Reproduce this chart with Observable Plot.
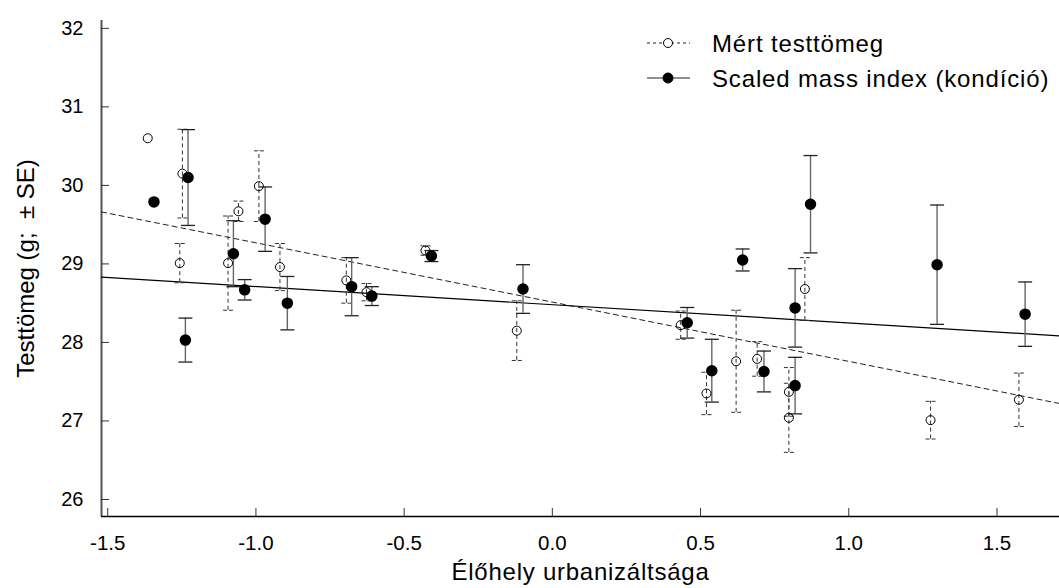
<!DOCTYPE html>
<html>
<head>
<meta charset="utf-8">
<script src="https://cdn.jsdelivr.net/npm/d3@7"></script>
<script src="https://cdn.jsdelivr.net/npm/@observablehq/plot@0.6"></script>
<style>
  body { margin: 0; background: #fff; font-family: "Liberation Sans", Arial, sans-serif; }
  #wrap { position: relative; width: 1059px; height: 588px; }
  #legend { position: absolute; left: 0; top: 0; }
</style>
</head>
<body>
<div id="wrap"></div>
<script>
// ---- data ----
const xTicks = [-1.5, -1.0, -0.5, 0.0, 0.5, 1.0, 1.5];
const yTicks = [26, 27, 28, 29, 30, 31, 32];
const xDomain = [-1.521, 1.711];
const yDomain = [25.783, 32.1];

const seriesNames = ["Mért testtömeg", "Scaled mass index (kondíció)"];
const xTitle = "Élőhely urbanizáltsága";
const yTitle = "Testtömeg (g;\u00a0 ± SE)";

// Mért testtömeg (open circles, dashed error bars)
const measuredX  = [-1.365, -1.257, -1.248, -1.094, -1.059, -0.990, -0.919, -0.695, -0.627, -0.428, -0.120, 0.433, 0.520, 0.620, 0.691, 0.798, 0.798, 0.852, 1.276, 1.574];
const measuredY  = [30.60, 29.01, 30.15, 29.01, 29.67, 29.99, 28.96, 28.79, 28.64, 29.17, 28.15, 28.22, 27.35, 27.76, 27.79, 27.37, 27.04, 28.68, 27.01, 27.27];
const measuredSE = [0, 0.25, 0.565, 0.60, 0.13, 0.45, 0.30, 0.29, 0.11, 0.06, 0.38, 0.18, 0.27, 0.65, 0.22, 0.31, 0.44, 0.40, 0.24, 0.34];

// Scaled mass index (filled circles, solid error bars)
const smiX  = [-1.344, -1.238, -1.229, -1.076, -1.038, -0.969, -0.894, -0.677, -0.609, -0.408, -0.099, 0.455, 0.538, 0.642, 0.714, 0.819, 0.819, 0.871, 1.298, 1.595];
const smiY  = [29.79, 28.03, 30.10, 29.13, 28.67, 29.57, 28.50, 28.71, 28.59, 29.10, 28.68, 28.25, 27.64, 29.05, 27.63, 28.44, 27.45, 29.76, 28.99, 28.36];
const smiSE = [0, 0.28, 0.61, 0.42, 0.13, 0.41, 0.34, 0.37, 0.12, 0.07, 0.31, 0.195, 0.40, 0.14, 0.26, 0.50, 0.36, 0.62, 0.76, 0.41];

// regression lines (end points)
const fitX = [-1.521, 1.711];
const measuredFit = [29.662, 27.222];
const smiFit = [28.832, 28.084];

// ---- tables ----
const measured = measuredX.map((x, i) => ({x, y: measuredY[i], se: measuredSE[i]}));
const smi = smiX.map((x, i) => ({x, y: smiY[i], se: smiSE[i]}));
const measuredBars = measured.filter(d => d.se > 0);
const smiBars = smi.filter(d => d.se > 0);
const measuredLine = fitX.map((x, i) => ({x, y: measuredFit[i]}));
const smiLine = fitX.map((x, i) => ({x, y: smiFit[i]}));

const capSymbol = {
  draw(context, size) {
    const r = Math.sqrt(size / Math.PI);
    context.moveTo(-r, 0);
    context.lineTo(r, 0);
  }
};

const font = "Liberation Sans, Arial, sans-serif";

const chart = Plot.plot({
  width: 1059,
  height: 588,
  marginTop: 20,
  marginBottom: 72,
  marginLeft: 101,
  marginRight: 0,
  style: {fontFamily: font, color: "black", background: "white"},
  x: {domain: xDomain},
  y: {domain: yDomain},
  marks: [
    // axis lines
    Plot.ruleX([xDomain[0]], {stroke: "#555", strokeWidth: 2}),
    Plot.ruleY([yDomain[0]], {stroke: "black", strokeWidth: 1.5}),
    // tick marks (inward)
    Plot.axisY(yTicks, {tickSize: -8, fill: "none", label: null, stroke: "#333"}),
    Plot.axisX(xTicks, {tickSize: -8, fill: "none", label: null, stroke: "#333"}),
    // tick labels
    Plot.axisY(yTicks, {tickSize: 0, tickPadding: 18, fontSize: 20, label: null, tickFormat: d => String(d)}),
    Plot.axisX(xTicks, {tickSize: 0, tickPadding: 19, fontSize: 20.5, label: null, tickFormat: d => d.toFixed(1)}),
    // axis titles
    Plot.text([xTitle], {text: d => d, frameAnchor: "bottom", textAnchor: "middle", dy: 56, fontSize: 24, lineAnchor: "middle"}),
    Plot.text([yTitle], {text: d => d, frameAnchor: "left", textAnchor: "middle", rotate: -90, dx: -75, fontSize: 24, lineAnchor: "middle"}),
    // regression lines
    Plot.line(measuredLine, {x: "x", y: "y", stroke: "#222", strokeWidth: 1, strokeDasharray: "5,4"}),
    Plot.line(smiLine, {x: "x", y: "y", stroke: "black", strokeWidth: 1.2}),
    // measured error bars (dashed)
    Plot.ruleX(measuredBars, {x: "x", y1: d => d.y - d.se, y2: d => d.y + d.se, stroke: "#333", strokeWidth: 1, strokeDasharray: "4,3"}),
    Plot.dot(measuredBars, {x: "x", y: d => d.y + d.se, symbol: capSymbol, r: 5, fill: "none", stroke: "#333", strokeWidth: 1, strokeDasharray: "4,2"}),
    Plot.dot(measuredBars, {x: "x", y: d => d.y - d.se, symbol: capSymbol, r: 5, fill: "none", stroke: "#333", strokeWidth: 1, strokeDasharray: "4,2"}),
    // SMI error bars (solid)
    Plot.ruleX(smiBars, {x: "x", y1: d => d.y - d.se, y2: d => d.y + d.se, stroke: "#666", strokeWidth: 1.4}),
    Plot.dot(smiBars, {x: "x", y: d => d.y + d.se, symbol: capSymbol, r: 7, fill: "none", stroke: "#222", strokeWidth: 1.3}),
    Plot.dot(smiBars, {x: "x", y: d => d.y - d.se, symbol: capSymbol, r: 7, fill: "none", stroke: "#222", strokeWidth: 1.3}),
    // points
    Plot.dot(measured, {x: "x", y: "y", r: 4.5, fill: "none", stroke: "black", strokeWidth: 1}),
    Plot.dot(smi, {x: "x", y: "y", r: 5, fill: "black", stroke: "black"})
  ]
});

// the reference's horizontal texts are slightly wider than plain Arial
d3.select(chart).selectAll("text")
  .filter(function() { return this.textContent === xTitle; })
  .style("letter-spacing", "0.75px");

const wrap = document.getElementById("wrap");
wrap.appendChild(chart);

// ---- legend (overlay) ----
const leg = d3.select(wrap).append("svg")
  .attr("id", "legend")
  .attr("width", 1059)
  .attr("height", 110);
const rows = [
  {name: seriesNames[0], cy: 43, dash: "3,3", filled: false},
  {name: seriesNames[1], cy: 78, dash: null, filled: true}
];
rows.forEach(r => {
  leg.append("line").attr("x1", 647).attr("x2", 690).attr("y1", r.cy).attr("y2", r.cy)
    .attr("stroke", "#222").attr("stroke-width", 1).attr("stroke-dasharray", r.dash);
  leg.append("circle").attr("cx", 668).attr("cy", r.cy).attr("r", r.filled ? 5 : 4.5)
    .attr("fill", r.filled ? "black" : "white").attr("stroke", "black");
  leg.append("text").attr("x", 712).attr("y", r.cy + 8.5)
    .attr("font-family", font).attr("font-size", 24).attr("fill", "black")
    .style("letter-spacing", "0.85px")
    .text(r.name);
});
</script>
</body>
</html>
